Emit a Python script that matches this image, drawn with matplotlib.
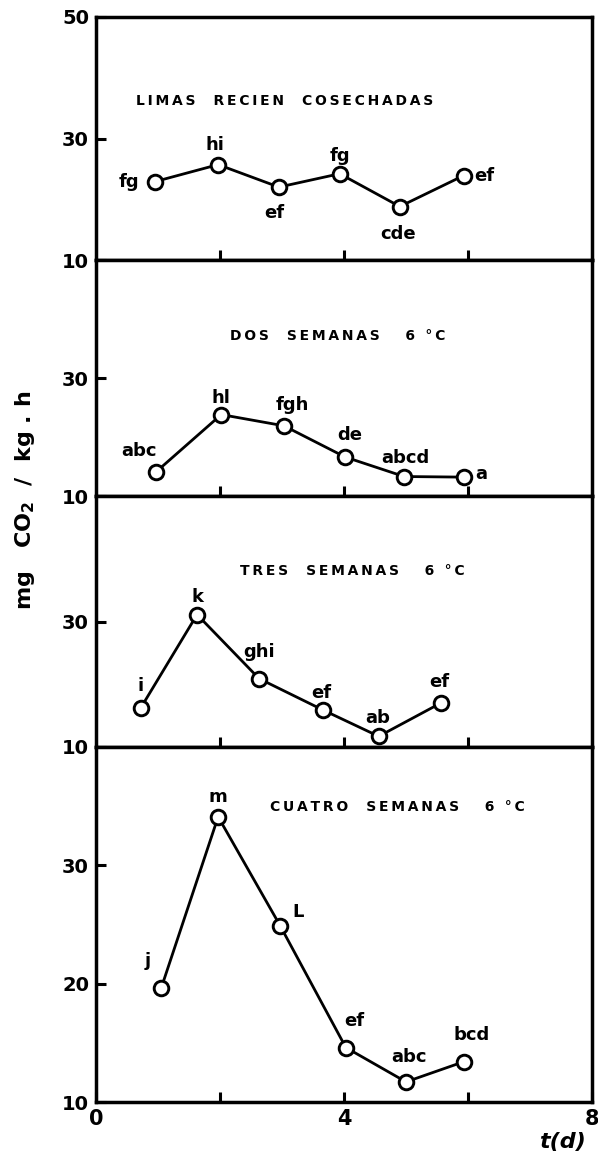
import matplotlib
matplotlib.use("Agg")
import matplotlib.pyplot as plt

# respiration rate of limes, mg CO2 / kg.h, per storage treatment
dias_cosecha = [0.95, 1.97, 2.95, 3.93, 4.9, 5.93]
co2_cosecha = [22.9, 25.7, 22.0, 24.2, 18.8, 23.9]
letras_cosecha = ["fg", "hi", "ef", "fg", "cde", "ef"]

dias_dos = [0.97, 2.02, 3.03, 4.02, 4.97, 5.93]
co2_dos = [14.1, 23.8, 21.9, 16.6, 13.3, 13.2]
letras_dos = ["abc", "hl", "fgh", "de", "abcd", "a"]

dias_tres = [0.72, 1.63, 2.63, 3.66, 4.56, 5.56]
co2_tres = [16.2, 31.1, 20.9, 15.9, 11.7, 17.0]
letras_tres = ["i", "k", "ghi", "ef", "ab", "ef"]

dias_cuatro = [1.05, 1.97, 2.97, 4.03, 5.0, 5.93]
co2_cuatro = [19.6, 34.1, 24.9, 14.6, 11.7, 13.4]
letras_cuatro = ["j", "m", "L", "ef", "abc", "bcd"]

titulos = ["LIMAS  RECIEN  COSECHADAS", "DOS  SEMANAS   6 °C",
           "TRES  SEMANAS   6 °C", "CUATRO  SEMANAS   6 °C"]

# label offsets in points (dx, dy) for each point letter
offs_cosecha = [(-19, 0), (-2, 14), (-3, -19), (0, 13), (-1, -20), (15, 0)]
offs_dos = [(-12, 15), (0, 12), (6, 15), (3, 16), (1, 13), (13, 2)]
offs_tres = [(0, 16), (0, 13), (0, 19), (-1, 12), (-1, 13), (-1, 15)]
offs_cuatro = [(-10, 20), (0, 14), (13, 10), (6, 19), (2, 18), (6, 19)]

W, H = 598, 1164
left, right = 96 / W, 592 / W
edges = [17, 260, 496, 747, 1102]   # panel borders in pixels from top

fig = plt.figure(figsize=(W / 100, H / 100), dpi=100)
fig.patch.set_facecolor("white")

paneles = [
    (dias_cosecha, co2_cosecha, letras_cosecha, offs_cosecha, (10, 50), [10, 30, 50], ["10", "30", "50"], (0.08, 0.655)),
    (dias_dos, co2_dos, letras_dos, offs_dos, (10, 50), [10, 30], ["10", "30"], (0.27, 0.68)),
    (dias_tres, co2_tres, letras_tres, offs_tres, (10, 50), [10, 30], ["10", "30"], (0.29, 0.70)),
    (dias_cuatro, co2_cuatro, letras_cuatro, offs_cuatro, (10, 40), [10, 20, 30], ["10", "20", "30"], (0.35, 0.83)),
]

for i, (x, y, letras, offs, ylim, yt, ytl, tpos) in enumerate(paneles):
    top, bot = edges[i], edges[i + 1]
    ax = fig.add_axes([left, 1 - bot / H, right - left, (bot - top) / H])
    ax.set_xlim(0, 8)
    ax.set_ylim(*ylim)
    for s in ax.spines.values():
        s.set_linewidth(2.5)
    ax.plot(x, y, "-o", color="black", lw=2.0, ms=10.5, mfc="white",
            mec="black", mew=2.1, zorder=3)
    for xi, yi, t, (dx, dy) in zip(x, y, letras, offs):
        ax.annotate(t, (xi, yi), xytext=(dx, dy), textcoords="offset points",
                    ha="center", va="center", fontsize=13, fontweight="bold")
    # hand lettering is wide: spread the letters out a bit
    espaciado = "\u2009".join(titulos[i])
    ax.text(tpos[0], tpos[1], espaciado, transform=ax.transAxes,
            fontsize=10, fontweight="bold", ha="left", va="center")
    ax.set_yticks(yt)
    ax.set_yticklabels(ytl)
    ax.tick_params(axis="y", direction="in", length=7, width=2.2, pad=5,
                   labelsize=14)
    for lab in ax.get_yticklabels():
        lab.set_fontweight("bold")
    if i < 3:
        ax.set_xticks([2, 4, 6])
        ax.set_xticklabels([])
    else:
        ax.set_xticks([0, 2, 4, 6, 8])
        ax.set_xticklabels(["0", "", "4", "", "8"])
        for lab in ax.get_xticklabels():
            lab.set_fontweight("bold")
    ax.tick_params(axis="x", direction="in", length=7, width=2.2, pad=5,
                   labelsize=15)

fig.text(0.042, 0.57, "mg   CO$_\\mathbf{2}$  /  kg . h", rotation=90,
         fontsize=16, fontweight="bold", ha="center", va="center")
fig.text(0.94, 0.01, "t(d)", fontsize=16, fontweight="bold",
         fontstyle="italic", ha="center", va="bottom")

fig.savefig("out.png", dpi=100)
